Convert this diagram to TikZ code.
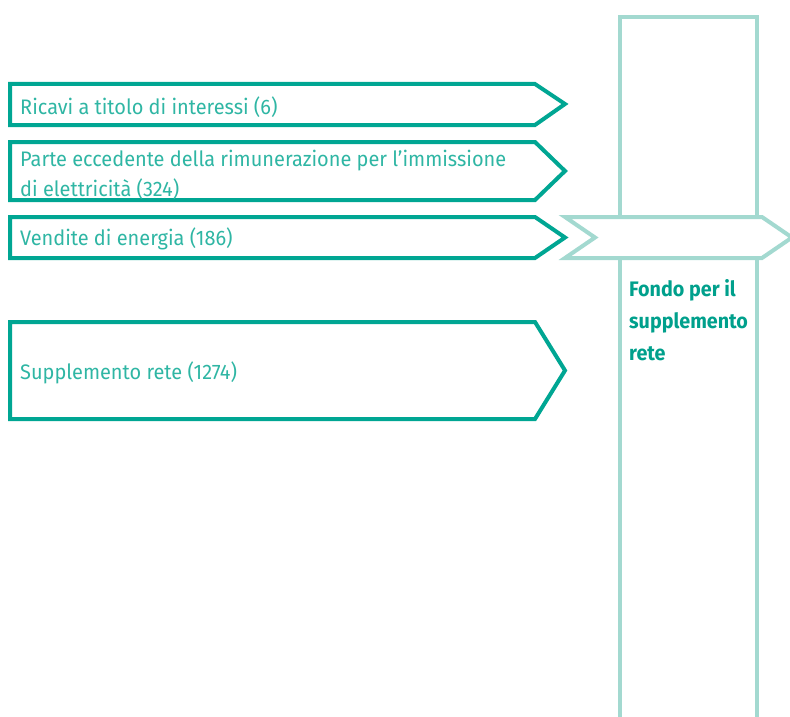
\documentclass[tikz,border=0pt]{standalone}
\usepackage{fontspec}
\setmainfont{Fira Sans}[FakeStretch=0.95]
\newfontfamily\boldfam{Fira Sans}[FakeStretch=0.94]
\definecolor{tealdark}{HTML}{00A693}
\definecolor{teallight}{HTML}{A3D9D0}
\definecolor{tealtext}{HTML}{2FB6A4}
\definecolor{tealbold}{HTML}{00A08C}
\tikzset{
  inarrow/.style={draw=tealdark, line width=4pt, line join=miter, fill=white},
  outarrow/.style={draw=teallight, line width=4pt, line join=miter, fill=white},
  lbl/.style={text=tealtext, inner sep=0pt, font=\fontsize{21}{30}\selectfont, align=left},
  boldlbl/.style={text=tealbold, inner sep=0pt, font=\boldfam\bfseries\fontsize{21}{31.7}\selectfont, align=left}
}
\begin{document}
\begin{tikzpicture}[x=1pt, y=-1pt]
\useasboundingbox (0,0) rectangle (790,717);
% tall fund column (open at the bottom)
\draw[draw=teallight, line width=4pt, line join=miter] (619.5,725) -- (619.5,17) -- (757,17) -- (757,725);
% outgoing chevron
\draw[outarrow] (565,217) -- (762,217) -- (792,237.5) -- (762,258) -- (565,258) -- (595,237.5) -- cycle;
% incoming arrows
\draw[inarrow] (10,84) -- (535,84) -- (565,104) -- (535,125) -- (10,125) -- cycle;
\draw[inarrow] (10,142) -- (535,142) -- (565,171) -- (535,200) -- (10,200) -- cycle;
\draw[inarrow] (10,217) -- (535,217) -- (565,237.5) -- (535,258) -- (10,258) -- cycle;
\draw[inarrow] (10,322) -- (535,322) -- (565,370.5) -- (535,419) -- (10,419) -- cycle;
% labels
\node[lbl, anchor=base west] (t1) at (20,114) {Ricavi a titolo di interessi (6)};
\node[lbl, anchor=base west] (t2) at (20,196) {Parte eccedente della rimunerazione per l’immissione\\di elettricità (324)};
\node[lbl, anchor=base west] (t3) at (20,245) {Vendite di energia (186)};
\node[lbl, anchor=base west] (t4) at (20,379) {Supplemento rete (1274)};
\node[boldlbl, anchor=base west] (fund) at (629,360) {Fondo per il\\supplemento\\rete};
\end{tikzpicture}
\end{document}
